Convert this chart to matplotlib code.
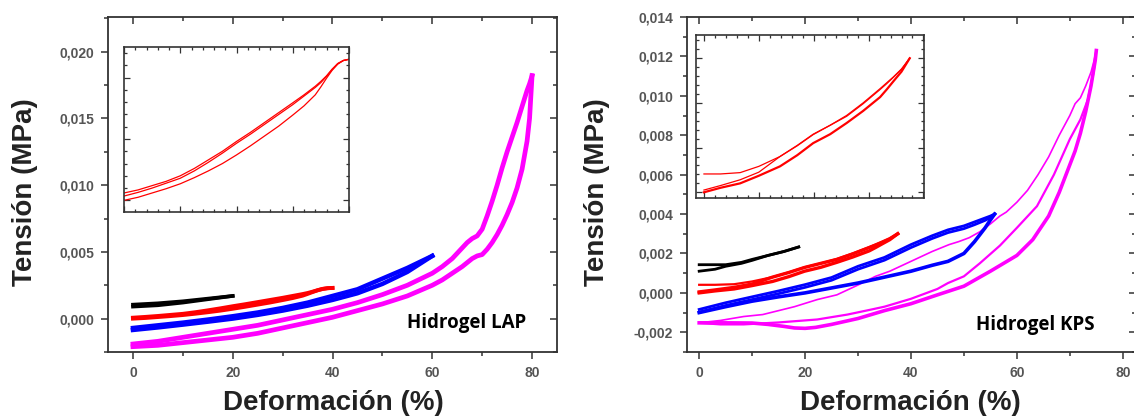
import matplotlib
matplotlib.use("Agg")
import matplotlib.pyplot as plt
from matplotlib.ticker import MultipleLocator, FuncFormatter

# ---- Hidrogel LAP (compression cycles, strain % vs stress MPa) ----
lap_black_x = [0, 5, 10, 15, 20]
lap_black_load = [0.0009, 0.0010, 0.0012, 0.00145, 0.0017]
lap_black_unload = [0.00105, 0.00115, 0.0013, 0.0015, 0.0017]

lap_red_x = [0, 2.5, 5, 7.5, 10, 12.5, 15, 17.5, 20, 22.5, 25, 27.5, 30, 32, 34, 35, 36, 37, 38, 39, 40]
lap_red_load = [0.0, 0.00005, 0.00012, 0.00019, 0.00027, 0.00037, 0.00048, 0.0006, 0.00074, 0.00089, 0.00105,
                0.00121, 0.00139, 0.00154, 0.00172, 0.00185, 0.00199, 0.00212, 0.00222, 0.00228, 0.0023]
lap_red_unload = [0.00007, 0.00013, 0.0002, 0.00028, 0.00036, 0.00048, 0.00062, 0.00077, 0.00093, 0.00108, 0.00124,
                  0.0014, 0.00156, 0.0017, 0.00184, 0.00192, 0.00202, 0.00213, 0.00223, 0.00228, 0.0023]
lap_red_cycle2 = [0.00012, 0.00017, 0.00024, 0.00031, 0.0004, 0.00052, 0.00066, 0.0008, 0.00096, 0.00111, 0.00127,
                  0.00143, 0.00159, 0.00172, 0.00186, 0.00194, 0.00203, 0.00214, 0.00223, 0.00228, 0.0023]

lap_blue_x = [0, 5, 10, 15, 20, 25, 30, 35, 40, 45, 50, 55, 60]
lap_blue_load = [-0.00085, -0.00066, -0.00045, -0.00023, 0.0, 0.00028, 0.0006, 0.00097, 0.0014, 0.0019, 0.0026,
                 0.0035, 0.0047]
lap_blue_unload = [-0.0007, -0.0005, -0.0003, -0.00007, 0.00018, 0.00046, 0.0008, 0.0012, 0.0017, 0.0022, 0.003,
                   0.0038, 0.0047]

lap_mag_x = [0, 5, 10, 15, 20, 25, 30, 35, 40, 45, 50, 55, 60, 62, 64, 66, 67, 68, 69, 70, 71, 72, 73, 74, 75,
             76, 77, 78, 79, 79.5, 80]
lap_mag_load = [-0.0021, -0.002, -0.0018, -0.0016, -0.0014, -0.0011, -0.0007, -0.0003, 0.0001, 0.0006, 0.0011,
                0.0017, 0.0025, 0.0029, 0.0034, 0.0039, 0.0042, 0.0045, 0.0047, 0.0048, 0.0052, 0.0057, 0.0063,
                0.007, 0.0078, 0.0087, 0.0098, 0.0112, 0.0133, 0.015, 0.0182]
lap_mag_unload = [-0.0019, -0.0017, -0.0014, -0.0011, -0.0008, -0.0005, -0.0001, 0.0003, 0.0007, 0.0012, 0.0018,
                  0.0025, 0.0034, 0.0039, 0.0045, 0.0053, 0.0057, 0.006, 0.0062, 0.0067, 0.0077, 0.0088, 0.01,
                  0.0113, 0.0125, 0.0136, 0.0147, 0.0159, 0.0171, 0.0176, 0.0182]

# ---- Hidrogel KPS ----
kps_black_x = [0, 3, 5, 8, 10, 13, 16, 18.8]
kps_black_load = [0.0011, 0.0012, 0.00135, 0.0015, 0.00165, 0.0019, 0.0021, 0.00233]
kps_black_unload = [0.00143, 0.00143, 0.00143, 0.00155, 0.0017, 0.0019, 0.0021, 0.00233]

kps_red_x = [0, 3, 6.6, 10, 13.85, 17, 19.9, 23, 26, 29, 32.1, 33.3, 34.5, 36, 37.5]
kps_red_load = [0.0, 0.0001, 0.0002, 0.00037, 0.00058, 0.00083, 0.0011, 0.0013, 0.00155, 0.00182, 0.00213,
                0.0023, 0.00248, 0.0027, 0.003]
kps_red_cycle2 = [0.00005, 0.00015, 0.00028, 0.00045, 0.0008, 0.00104, 0.00129, 0.0015, 0.0017, 0.00198, 0.0023,
                  0.00243, 0.00257, 0.00275, 0.003]
kps_red_unload = [0.00041, 0.00041, 0.00044, 0.00058, 0.0008, 0.00105, 0.0013, 0.0015, 0.00172, 0.002, 0.00232,
                  0.00245, 0.00258, 0.00276, 0.003]

kps_blue_x = [0, 5, 10, 15, 20, 25, 30, 35, 40, 44, 47, 50, 52, 54, 55, 55.8]
kps_blue_load = [-0.00084, -0.0005, -0.0002, 0.0001, 0.00042, 0.00078, 0.00135, 0.0018, 0.00245, 0.0029, 0.0032,
                 0.0034, 0.0036, 0.0038, 0.0039, 0.004]
kps_blue_load2 = [-0.00098, -0.00064, -0.00034, -0.00004, 0.00028, 0.00064, 0.0012, 0.00166, 0.0023, 0.00276,
                  0.00306, 0.00326, 0.00346, 0.00368, 0.00382, 0.004]
kps_blue_unload = [-0.001, -0.0007, -0.00042, -0.0002, 0.0, 0.00025, 0.0005, 0.0008, 0.0011, 0.0014, 0.0016,
                   0.002, 0.0026, 0.0033, 0.0037, 0.004]

kps_mag_load_x = [0, 5, 10, 13, 16, 18, 20, 22, 25, 30, 35, 40, 45, 50, 55, 60, 63, 66, 68, 70, 71, 72, 73, 74,
                  74.8, 75]
kps_mag_load = [-0.00152, -0.00152, -0.00153, -0.0016, -0.0017, -0.00178, -0.0018, -0.00175, -0.0016, -0.0013,
                -0.0009, -0.00055, -0.0001, 0.00034, 0.0011, 0.0019, 0.0027, 0.0039, 0.0051, 0.0065, 0.0072,
                0.0081, 0.0092, 0.0105, 0.0118, 0.0123]
kps_mag_outer_x = [75, 74.5, 74, 73, 72, 71, 70, 68, 66, 64, 62, 60, 58, 56.8, 55, 53, 51, 49, 47.2, 44, 40, 36,
                   33.3, 30, 26, 22.3, 18, 15, 12, 8.4, 4, 0]
kps_mag_outer = [0.0123, 0.0117, 0.0112, 0.0105, 0.0099, 0.0096, 0.009, 0.008, 0.0069, 0.006, 0.0052, 0.0046,
                 0.0041, 0.0039, 0.0035, 0.0031, 0.0028, 0.0026, 0.00245, 0.0021, 0.0016, 0.0011, 0.00084, 0.0004,
                 -0.0001, -0.00034, -0.0007, -0.0009, -0.0011, -0.0012, -0.0014, -0.00152]
kps_mag_inner_x = [75, 74.5, 73.4, 72, 70, 67, 63.8, 60, 56.8, 53, 50, 47, 45, 43, 40, 35, 32.6, 28, 22.3, 15,
                   8.4, 4, 0]
kps_mag_inner = [0.0123, 0.0112, 0.0098, 0.0088, 0.0078, 0.006, 0.0044, 0.0033, 0.0024, 0.0015, 0.00084, 0.0005,
                 0.0002, 0.0, -0.0003, -0.0007, -0.00084, -0.0011, -0.00135, -0.0015, -0.0016, -0.0016, -0.00152]

W, H = 1134, 416
plt.rcParams['font.family'] = ['Liberation Sans', 'DejaVu Sans']
fig = plt.figure(figsize=(W / 100, H / 100), dpi=100)


def px_axes(x0, y0, x1, y1):
    """Axes from pixel box (left, top, right, bottom)."""
    return fig.add_axes([x0 / W, 1 - y1 / H, (x1 - x0) / W, (y1 - y0) / H])


comma = FuncFormatter(lambda v, p: f"{v:.3f}".replace('.', ','))


def style_main(ax, xmaj, ymaj):
    ax.xaxis.set_major_locator(MultipleLocator(xmaj))
    ax.xaxis.set_minor_locator(MultipleLocator(xmaj / 2))
    ax.yaxis.set_major_locator(MultipleLocator(ymaj))
    ax.yaxis.set_minor_locator(MultipleLocator(ymaj / 2))
    ax.yaxis.set_major_formatter(comma)
    for s in ax.spines.values():
        s.set_color('#333333')
        s.set_linewidth(1.3)
    ax.tick_params(which='both', direction='out', color='#333333', width=1.1,
                   labelsize=10, labelcolor='#555555', pad=5)
    ax.tick_params(which='major', length=5)
    ax.tick_params(which='minor', length=3)
    for lab in ax.get_xticklabels() + ax.get_yticklabels():
        lab.set_fontweight('bold')
    # mirrored inward ticks on top and right
    for side in ('top', 'right'):
        sec = ax.secondary_xaxis('top') if side == 'top' else ax.secondary_yaxis('right')
        axis = sec.xaxis if side == 'top' else sec.yaxis
        step = xmaj if side == 'top' else ymaj
        axis.set_major_locator(MultipleLocator(step))
        axis.set_minor_locator(MultipleLocator(step / 2))
        sec.tick_params(which='both', direction='in', color='#333333', width=1.1, labelsize=0)
        sec.tick_params(which='major', length=5)
        sec.tick_params(which='minor', length=3)
        axis.set_major_formatter(FuncFormatter(lambda v, p: ''))
        sec.spines[side].set_visible(False)


def style_inset(ax):
    ax.set_xticklabels([])
    ax.set_yticklabels([])
    ax.minorticks_on()
    for s in ax.spines.values():
        s.set_color('#333333')
        s.set_linewidth(1.2)
    ax.tick_params(which='both', direction='in', top=True, right=True, color='#333333', width=0.9)
    ax.tick_params(which='major', length=4)
    ax.tick_params(which='minor', length=2)


# ---------------- LAP ----------------
ax1 = px_axes(108, 17, 557, 352)
ax1.plot(lap_black_x, lap_black_load, color='black', lw=2.6)
ax1.plot(lap_black_x, lap_black_unload, color='black', lw=2.6)
ax1.plot(lap_red_x, lap_red_load, color='red', lw=2.8)
ax1.plot(lap_red_x, lap_red_unload, color='red', lw=2.8)
ax1.plot(lap_blue_x, lap_blue_load, color='blue', lw=3.2)
ax1.plot(lap_blue_x, lap_blue_unload, color='blue', lw=3.2)
ax1.plot(lap_mag_x, lap_mag_load, color='magenta', lw=3.4)
ax1.plot(lap_mag_x, lap_mag_unload, color='magenta', lw=3.4)
ax1.set_xlim(-5, 85)
ax1.set_ylim(-0.0025, 0.0226)
style_main(ax1, 20, 0.005)

in1 = px_axes(124, 47, 349, 212)
for yy in (lap_red_load, lap_red_unload, lap_red_cycle2):
    in1.plot(lap_red_x, yy, color='red', lw=0.9)
in1.set_xlim(0, 40)
in1.set_ylim(-0.00019, 0.0025)
style_inset(in1)

# ---------------- KPS ----------------
ax2 = px_axes(687, 17, 1136, 352)
ax2.plot(kps_black_x, kps_black_load, color='black', lw=2.0)
ax2.plot(kps_black_x, kps_black_unload, color='black', lw=2.0)
ax2.plot(kps_red_x, kps_red_load, color='red', lw=2.4)
ax2.plot(kps_red_x, kps_red_cycle2, color='red', lw=2.4)
ax2.plot(kps_red_x, kps_red_unload, color='red', lw=1.6)
ax2.plot(kps_mag_load_x, kps_mag_load, color='magenta', lw=2.6)
ax2.plot(kps_mag_outer_x, kps_mag_outer, color='magenta', lw=1.2)
ax2.plot(kps_mag_inner_x, kps_mag_inner, color='magenta', lw=1.6)
ax2.plot(kps_blue_x, kps_blue_load, color='blue', lw=2.0)
ax2.plot(kps_blue_x, kps_blue_load2, color='blue', lw=2.0)
ax2.plot(kps_blue_x, kps_blue_unload, color='blue', lw=2.6)
ax2.set_xlim(-2.3, 82.5)
ax2.set_ylim(-0.003, 0.014)
style_main(ax2, 20, 0.002)

in2 = px_axes(696, 35, 924, 198)
for yy, lw in ((kps_red_load, 1.6), (kps_red_cycle2, 0.9), (kps_red_unload, 0.9)):
    in2.plot(kps_red_x, yy, color='red', lw=lw)
in2.set_xlim(-1.45, 40.1)
in2.set_ylim(-0.000128, 0.00352)
style_inset(in2)

# ---------------- labels ----------------
lab_kw = dict(fontsize=20, fontweight='bold', color='#222222')
fig.text(25 / W, 1 - 192 / H, 'Tensión (MPa)', rotation=90, ha='center', va='center', **lab_kw)
fig.text(597 / W, 1 - 192 / H, 'Tensión (MPa)', rotation=90, ha='center', va='center', **lab_kw)
fig.text(333 / W, 1 - 403 / H, 'Deformación (%)', ha='center', va='center', **lab_kw)
fig.text(910 / W, 1 - 403 / H, 'Deformación (%)', ha='center', va='center', **lab_kw)

tag_kw = dict(fontsize=13.5, fontweight='bold', family=['Open Sans', 'DejaVu Sans'], color='black',
              ha='left', va='center')
fig.text(407 / W, 1 - 323 / H, 'Hidrogel LAP', **tag_kw)
fig.text(976 / W, 1 - 325 / H, 'Hidrogel KPS', **tag_kw)

fig.savefig('out.png', dpi=100)
